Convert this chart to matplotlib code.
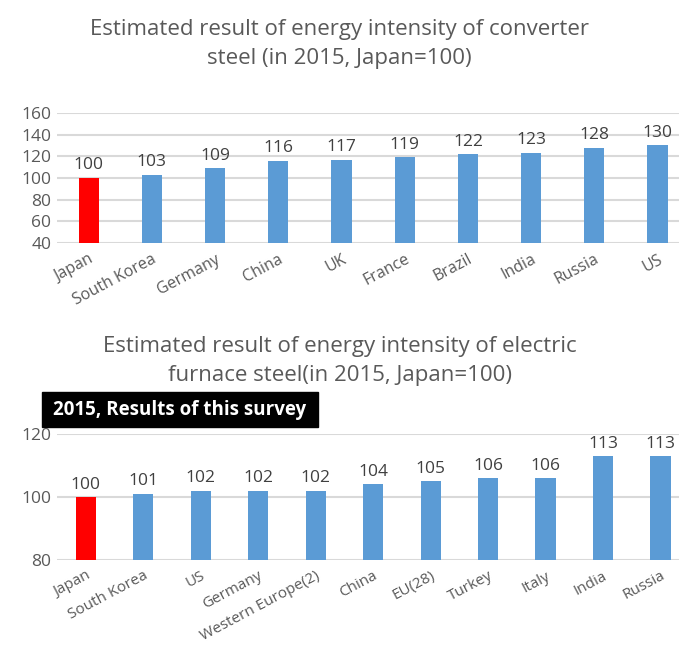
import matplotlib
matplotlib.use("Agg")
import matplotlib.pyplot as plt

plt.rcParams['font.family'] = ['Open Sans', 'DejaVu Sans']

# Converter steel
conv_countries = ["Japan", "South Korea", "Germany", "China", "UK", "France",
                  "Brazil", "India", "Russia", "US"]
conv_values = [100, 103, 109, 116, 117, 119, 122, 123, 128, 130]
conv_ticks = [40, 60, 80, 100, 120, 140, 160]

# Electric furnace steel
eaf_countries = ["Japan", "South Korea", "US", "Germany", "Western Europe(2)",
                 "China", "EU(28)", "Turkey", "Italy", "India", "Russia"]
eaf_values = [100, 101, 102, 102, 102, 104, 105, 106, 106, 113, 113]
eaf_ticks = [80, 100, 120]

RED = "#FF0000"
BLUE = "#5B9BD5"
GRID = "#D9D9D9"
TXT = "#595959"

fig = plt.figure(figsize=(6.79, 6.49), dpi=100)


def draw(ax, cats, vals, ticks, width, label_size):
    x = range(len(cats))
    colors = [RED if c == "Japan" else BLUE for c in cats]
    bars = ax.bar(x, [v - ticks[0] for v in vals], bottom=ticks[0],
                  width=width, color=colors, zorder=3)
    for b, v in zip(bars, vals):
        ax.text(b.get_x() + b.get_width() / 2, v + (ticks[-1] - ticks[0]) * 0.035,
                str(v), ha="center", va="bottom", fontsize=12.5, color="#404040")
    ax.set_ylim(ticks[0], ticks[-1])
    ax.set_xlim(-0.5, len(cats) - 0.5)
    ax.set_yticks(ticks)
    ax.set_xticks(list(x))
    ax.set_xticklabels(cats, rotation=28, ha="right", rotation_mode="anchor",
                       fontsize=label_size, color=TXT)
    ax.tick_params(axis="y", labelsize=12.5, colors=TXT, length=0, pad=4)
    ax.tick_params(axis="x", length=0, pad=6)
    ax.grid(axis="y", color=GRID, linewidth=1.5, zorder=0)
    for s in ax.spines.values():
        s.set_visible(False)


ax1 = fig.add_axes([0.084, 0.6256, 0.931, 0.2004])
draw(ax1, conv_countries, conv_values, conv_ticks, 0.32, 11.5)

ax2 = fig.add_axes([0.084, 0.1371, 0.931, 0.1942])
draw(ax2, eaf_countries, eaf_values, eaf_ticks, 0.35, 11)

fig.text(0.5, 1 - 44 / 649,
         "Estimated result of energy intensity of converter\nsteel (in 2015, Japan=100)",
         ha="center", va="center", fontsize=16, color="#595959", linespacing=1.45)
fig.text(0.5, 1 - 361 / 649,
         "Estimated result of energy intensity of electric\nfurnace steel(in 2015, Japan=100)",
         ha="center", va="center", fontsize=16, color="#595959", linespacing=1.45)

fig.patches.append(plt.Rectangle((0.062, 0.342), 0.406, 0.054,
                                 transform=fig.transFigure, color="black", zorder=5))
fig.text(0.265, 0.369, "2015, Results of this survey", ha="center", va="center",
         fontsize=13.5, color="white", fontweight="bold", zorder=6)

fig.savefig("out.png", dpi=100)
